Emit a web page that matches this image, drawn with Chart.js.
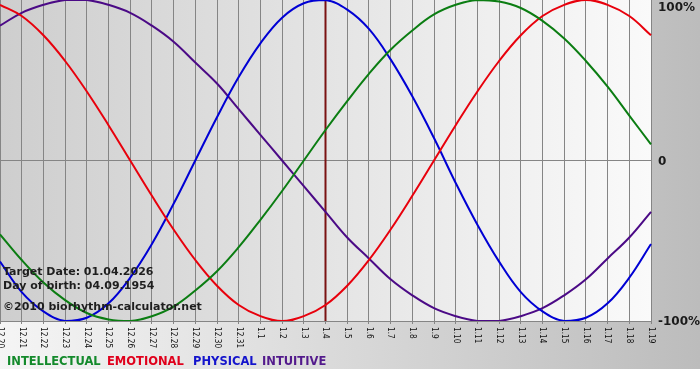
<!DOCTYPE html>
<html>
<head>
<meta charset="utf-8">
<script src="https://cdn.jsdelivr.net/npm/chart.js@4.4.1/dist/chart.umd.min.js"></script>
<style>
  html, body { margin: 0; padding: 0; background: #fff; }
  canvas { display: block; }
</style>
</head>
<body>
<canvas id="bioChart" width="700" height="380"></canvas>
<script>
// days shown on the x axis (month.day)
const days = ['12.20', '12.21', '12.22', '12.23', '12.24', '12.25', '12.26', '12.27', '12.28', '12.29', '12.30', '12.31',
  '1.1', '1.2', '1.3', '1.4', '1.5', '1.6', '1.7', '1.8', '1.9', '1.10', '1.11', '1.12', '1.13', '1.14', '1.15',
  '1.16', '1.17', '1.18', '1.19'];

// cycle values, -1 .. 1
const intellectual = [-0.46, -0.62, -0.76, -0.87, -0.95, -0.99, -1.00, -0.97, -0.91, -0.81, -0.69, -0.54, -0.37, -0.19, 0.00,
  0.19, 0.37, 0.54, 0.69, 0.81, 0.91, 0.97, 1.00, 0.99, 0.95, 0.87, 0.76, 0.62, 0.46, 0.28, 0.10];
const emotional = [0.97, 0.90, 0.78, 0.62, 0.43, 0.22, 0.00, -0.22, -0.43, -0.62, -0.78, -0.90, -0.97, -1.00, -0.97,
  -0.90, -0.78, -0.62, -0.43, -0.22, 0.00, 0.22, 0.43, 0.62, 0.78, 0.90, 0.97, 1.00, 0.97, 0.90, 0.78];
const physical = [-0.63, -0.82, -0.94, -1.00, -0.98, -0.89, -0.73, -0.52, -0.27, 0.00, 0.27, 0.52, 0.73, 0.89, 0.98,
  1.00, 0.94, 0.82, 0.63, 0.40, 0.14, -0.14, -0.40, -0.63, -0.82, -0.94, -1.00, -0.98, -0.89, -0.73, -0.52];
const intuitive = [0.84, 0.92, 0.97, 1.00, 1.00, 0.97, 0.92, 0.84, 0.74, 0.61, 0.48, 0.32, 0.16, 0.00, -0.16,
  -0.32, -0.48, -0.61, -0.74, -0.84, -0.92, -0.97, -1.00, -1.00, -0.97, -0.92, -0.84, -0.74, -0.61, -0.48, -0.32];

const targetDay = '1.4';
const yTickValues = [1, 0, -1];
const yTickLabels = ['100%', '0', '-100%'];
const infoLines = ['Target Date: 01.04.2026', 'Day of birth: 04.09.1954', '\u00a92010 biorhythm-calculator.net'];

const series = [
  { name: 'INTELLECTUAL', data: intellectual, line: '#0b7d12', text: '#148a2c' },
  { name: 'EMOTIONAL', data: emotional, line: '#e8000c', text: '#e0001c' },
  { name: 'PHYSICAL', data: physical, line: '#0000d4', text: '#1414cc' },
  { name: 'INTUITIVE', data: intuitive, line: '#4b0a86', text: '#531a8c' }
];

const GRID = '#858585';
const legendLeft = [7, 107, 193, 262];

const bioPlugin = {
  id: 'bioPlugin',
  beforeDraw(chart) {
    const { ctx, chartArea: a, width, height } = chart;
    ctx.save();
    ctx.fillStyle = '#fff';
    ctx.fillRect(0, 0, width, height);
    let g = ctx.createLinearGradient(0, 0, width, 0);
    g.addColorStop(0, '#f5f5f5');
    g.addColorStop(1, '#bcbcbc');
    ctx.fillStyle = g;
    ctx.fillRect(0, 0, width, height - 11);
    g = ctx.createLinearGradient(a.left, 0, a.right, 0);
    g.addColorStop(0, '#cecece');
    g.addColorStop(1, '#fafafa');
    ctx.fillStyle = g;
    ctx.fillRect(a.left, a.top, a.right - a.left, a.bottom - a.top);
    ctx.restore();
  },
  beforeDatasetsDraw(chart) {
    // target date marker
    const { ctx, chartArea: a } = chart;
    const x = chart.scales.x.getPixelForValue(days.indexOf(targetDay));
    ctx.save();
    ctx.strokeStyle = '#7a1212';
    ctx.lineWidth = 2;
    ctx.beginPath();
    ctx.moveTo(x, a.top);
    ctx.lineTo(x, a.bottom);
    ctx.stroke();
    ctx.restore();
  },
  afterDraw(chart) {
    const { ctx, chartArea: a } = chart;
    const xs = chart.scales.x, ys = chart.scales.y;
    ctx.save();

    // x labels, turned clockwise
    ctx.fillStyle = '#111';
    ctx.font = '8.2px "DejaVu Sans Condensed", "DejaVu Sans"';
    ctx.textAlign = 'left';
    ctx.textBaseline = 'middle';
    days.forEach((d, i) => {
      ctx.save();
      ctx.translate(xs.getPixelForValue(i), a.bottom + 6);
      ctx.rotate(Math.PI / 2);
      ctx.fillText(d, 0, 0);
      ctx.restore();
    });

    // y labels on the right
    ctx.fillStyle = '#1a1a1a';
    ctx.font = 'bold 12px "DejaVu Sans"';
    yTickValues.forEach((v, i) => {
      const y = Math.max(ys.getPixelForValue(v) + 1, 8);
      ctx.fillText(yTickLabels[i], a.right + 7, y);
    });

    // info text
    ctx.font = 'bold 11px "DejaVu Sans"';
    ctx.fillStyle = '#1e1e1e';
    ctx.fillText(infoLines[0], 3, 272);
    ctx.fillText(infoLines[1], 3, 286);
    ctx.fillText(infoLines[2], 3, 307);

    // legend
    ctx.font = 'bold 11.5px "DejaVu Sans"';
    series.forEach((s, i) => {
      ctx.fillStyle = s.text;
      ctx.fillText(s.name, legendLeft[i], 362);
    });
    ctx.restore();
  }
};

new Chart(document.getElementById('bioChart'), {
  type: 'line',
  data: {
    labels: days,
    datasets: series.map(s => ({
      label: s.name,
      data: s.data,
      borderColor: s.line,
      backgroundColor: 'transparent',
      borderWidth: 2,
      pointRadius: 0,
      tension: 0.4,
      fill: false
    }))
  },
  options: {
    responsive: false,
    animation: false,
    layout: { padding: 0 },
    plugins: {
      legend: { display: false },
      tooltip: { enabled: false }
    },
    scales: {
      x: {
        type: 'category',
        offset: false,
        ticks: { display: false },
        grid: { color: GRID, lineWidth: 1, drawTicks: true, tickLength: 3, tickColor: GRID },
        border: { display: true, color: GRID },
        afterFit: scale => { scale.height = 59; }
      },
      y: {
        position: 'right',
        min: -1,
        max: 1,
        ticks: { display: false, stepSize: 1 },
        grid: {
          drawTicks: false,
          color: c => (c.tick && c.tick.value === 0 ? GRID : 'transparent')
        },
        border: { display: true, color: GRID },
        afterFit: scale => { scale.width = 49; }
      }
    }
  },
  plugins: [bioPlugin]
});
</script>
</body>
</html>
